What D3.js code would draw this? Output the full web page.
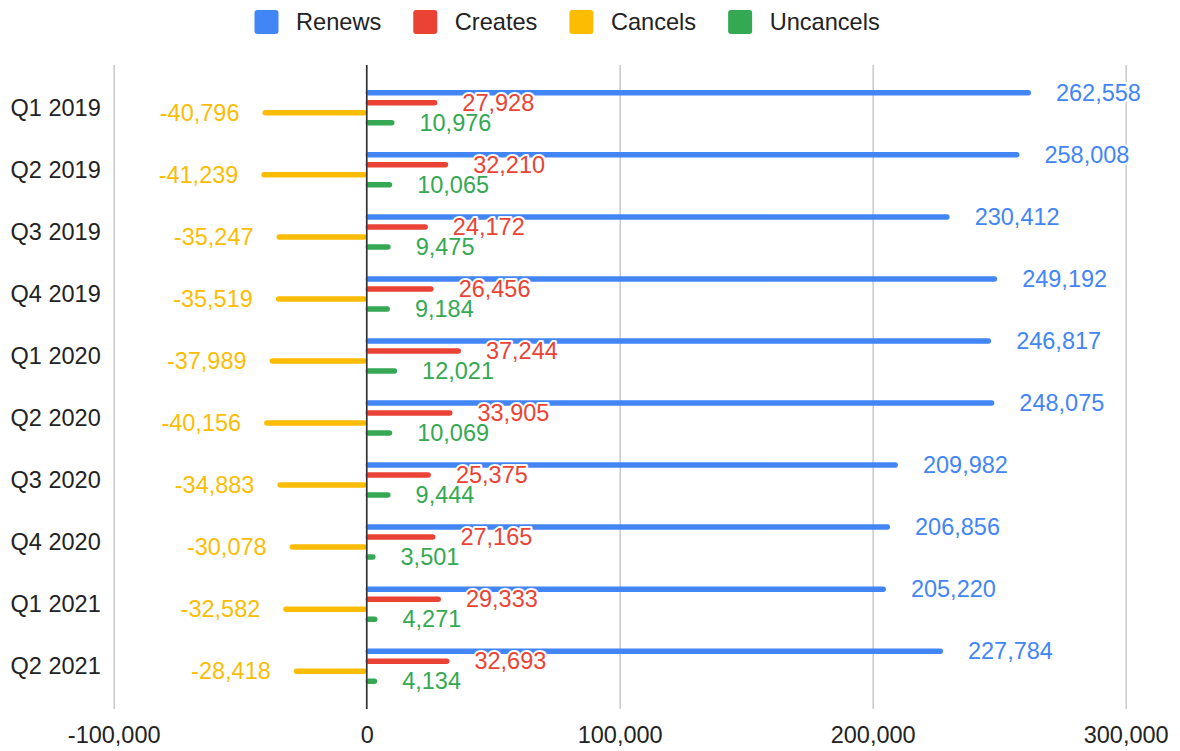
<!DOCTYPE html>
<html>
<head>
<meta charset="utf-8">
<script src="https://cdn.jsdelivr.net/npm/d3@7"></script>
<style>
  html, body { margin: 0; padding: 0; background: #fff; }
  svg { display: block; font-family: "Liberation Sans", Arial, sans-serif; }
</style>
</head>
<body>
<svg id="chart" width="1180" height="751"></svg>
<script>
// Quarterly subscription activity
const quarters = ["Q1 2019", "Q2 2019", "Q3 2019", "Q4 2019", "Q1 2020",
                  "Q2 2020", "Q3 2020", "Q4 2020", "Q1 2021", "Q2 2021"];
const seriesNames = ["Renews", "Creates", "Cancels", "Uncancels"];
const seriesColors = ["#4285F4", "#EA4335", "#FBBC04", "#34A853"];

const renews    = [262558, 258008, 230412, 249192, 246817, 248075, 209982, 206856, 205220, 227784];
const creates   = [27928, 32210, 24172, 26456, 37244, 33905, 25375, 27165, 29333, 32693];
const cancels   = [-40796, -41239, -35247, -35519, -37989, -40156, -34883, -30078, -32582, -28418];
const uncancels = [10976, 10065, 9475, 9184, 12021, 10069, 9444, 3501, 4271, 4134];

const xTicks = [-100000, 0, 100000, 200000, 300000];

const seriesValues = [renews, creates, cancels, uncancels];

const fmt = d3.formatLocale({ decimal: ".", thousands: ",", grouping: [3], currency: ["$", ""], minus: "-" }).format(",");

const svg = d3.select("#chart");
const plot = { left: 113.7, right: 1125.7, top: 65, bottom: 709 };
const FONT = 23.5;
const LEGEND_FONT = 23.6;

const x = d3.scaleLinear().domain([-100000, 300000]).range([plot.left, plot.right]);
const y = d3.scalePoint().domain(quarters).range([plot.top, plot.bottom]).padding(0.69);
const sub = d3.scaleBand().domain(seriesNames).range([-20, 20]);
const barH = 5.5;

// vertical gridlines + bottom tick labels
const xAxis = d3.axisBottom(x).tickValues(xTicks).tickFormat(fmt)
  .tickSize(-(plot.bottom - plot.top)).tickPadding(17.5);
const gx = svg.append("g").attr("transform", `translate(0,${plot.bottom})`).call(xAxis);
gx.select(".domain").remove();
gx.selectAll(".tick line").attr("stroke", "#cccccc").attr("stroke-width", 1.6);
gx.selectAll(".tick text").attr("fill", "#222").style("font-size", FONT + "px")
  .style("font-family", "'Liberation Sans', Arial, sans-serif");

// category labels
const yAxis = d3.axisLeft(y).tickSize(0).tickPadding(13);
const gy = svg.append("g").attr("transform", `translate(${plot.left},0)`).call(yAxis);
gy.select(".domain").remove();
gy.selectAll(".tick text").attr("fill", "#222").style("font-size", FONT + "px")
  .style("font-family", "'Liberation Sans', Arial, sans-serif");

// flatten to one record per bar
const rows = [];
seriesNames.forEach((s, si) => {
  quarters.forEach((q, qi) => rows.push({ s, si, q, v: seriesValues[si][qi] }));
});

const barY = d => y(d.q) + sub(d.s) + sub.bandwidth() / 2;

// bars
svg.append("g").selectAll("rect").data(rows).join("rect")
  .attr("x", d => Math.min(x(0), x(d.v)) - 1)
  .attr("width", d => Math.abs(x(d.v) - x(0)) + 1)
  .attr("y", d => barY(d) - barH / 2)
  .attr("height", barH)
  .attr("rx", barH / 2)
  .attr("fill", d => seriesColors[d.si]);

// zero baseline
svg.append("line")
  .attr("x1", x(0)).attr("x2", x(0))
  .attr("y1", plot.top).attr("y2", plot.bottom)
  .attr("stroke", "#333").attr("stroke-width", 1.6);

// value labels with a white halo
svg.append("g").selectAll("text").data(rows).join("text")
  .attr("x", d => d.v < 0 ? x(d.v) - 24 : x(d.v) + 25)
  .attr("y", d => barY(d))
  .attr("dy", "0.35em")
  .attr("text-anchor", d => d.v < 0 ? "end" : "start")
  .attr("fill", d => seriesColors[d.si])
  .attr("stroke", "#fff").attr("stroke-width", 4).attr("stroke-linejoin", "round")
  .style("paint-order", "stroke")
  .style("font-size", FONT + "px")
  .text(d => fmt(d.v));

// legend
const legend = svg.append("g");
let lx = 254.5;
seriesNames.forEach((s, i) => {
  legend.append("rect").attr("x", lx).attr("y", 10).attr("width", 24).attr("height", 24)
    .attr("rx", 3).attr("fill", seriesColors[i]);
  const t = legend.append("text").attr("x", lx + 41.5).attr("y", 22).attr("dy", "0.35em")
    .attr("fill", "#222").style("font-size", LEGEND_FONT + "px").text(s);
  lx = lx + 41.5 + t.node().getComputedTextLength() + 32;
});
</script>
</body>
</html>
